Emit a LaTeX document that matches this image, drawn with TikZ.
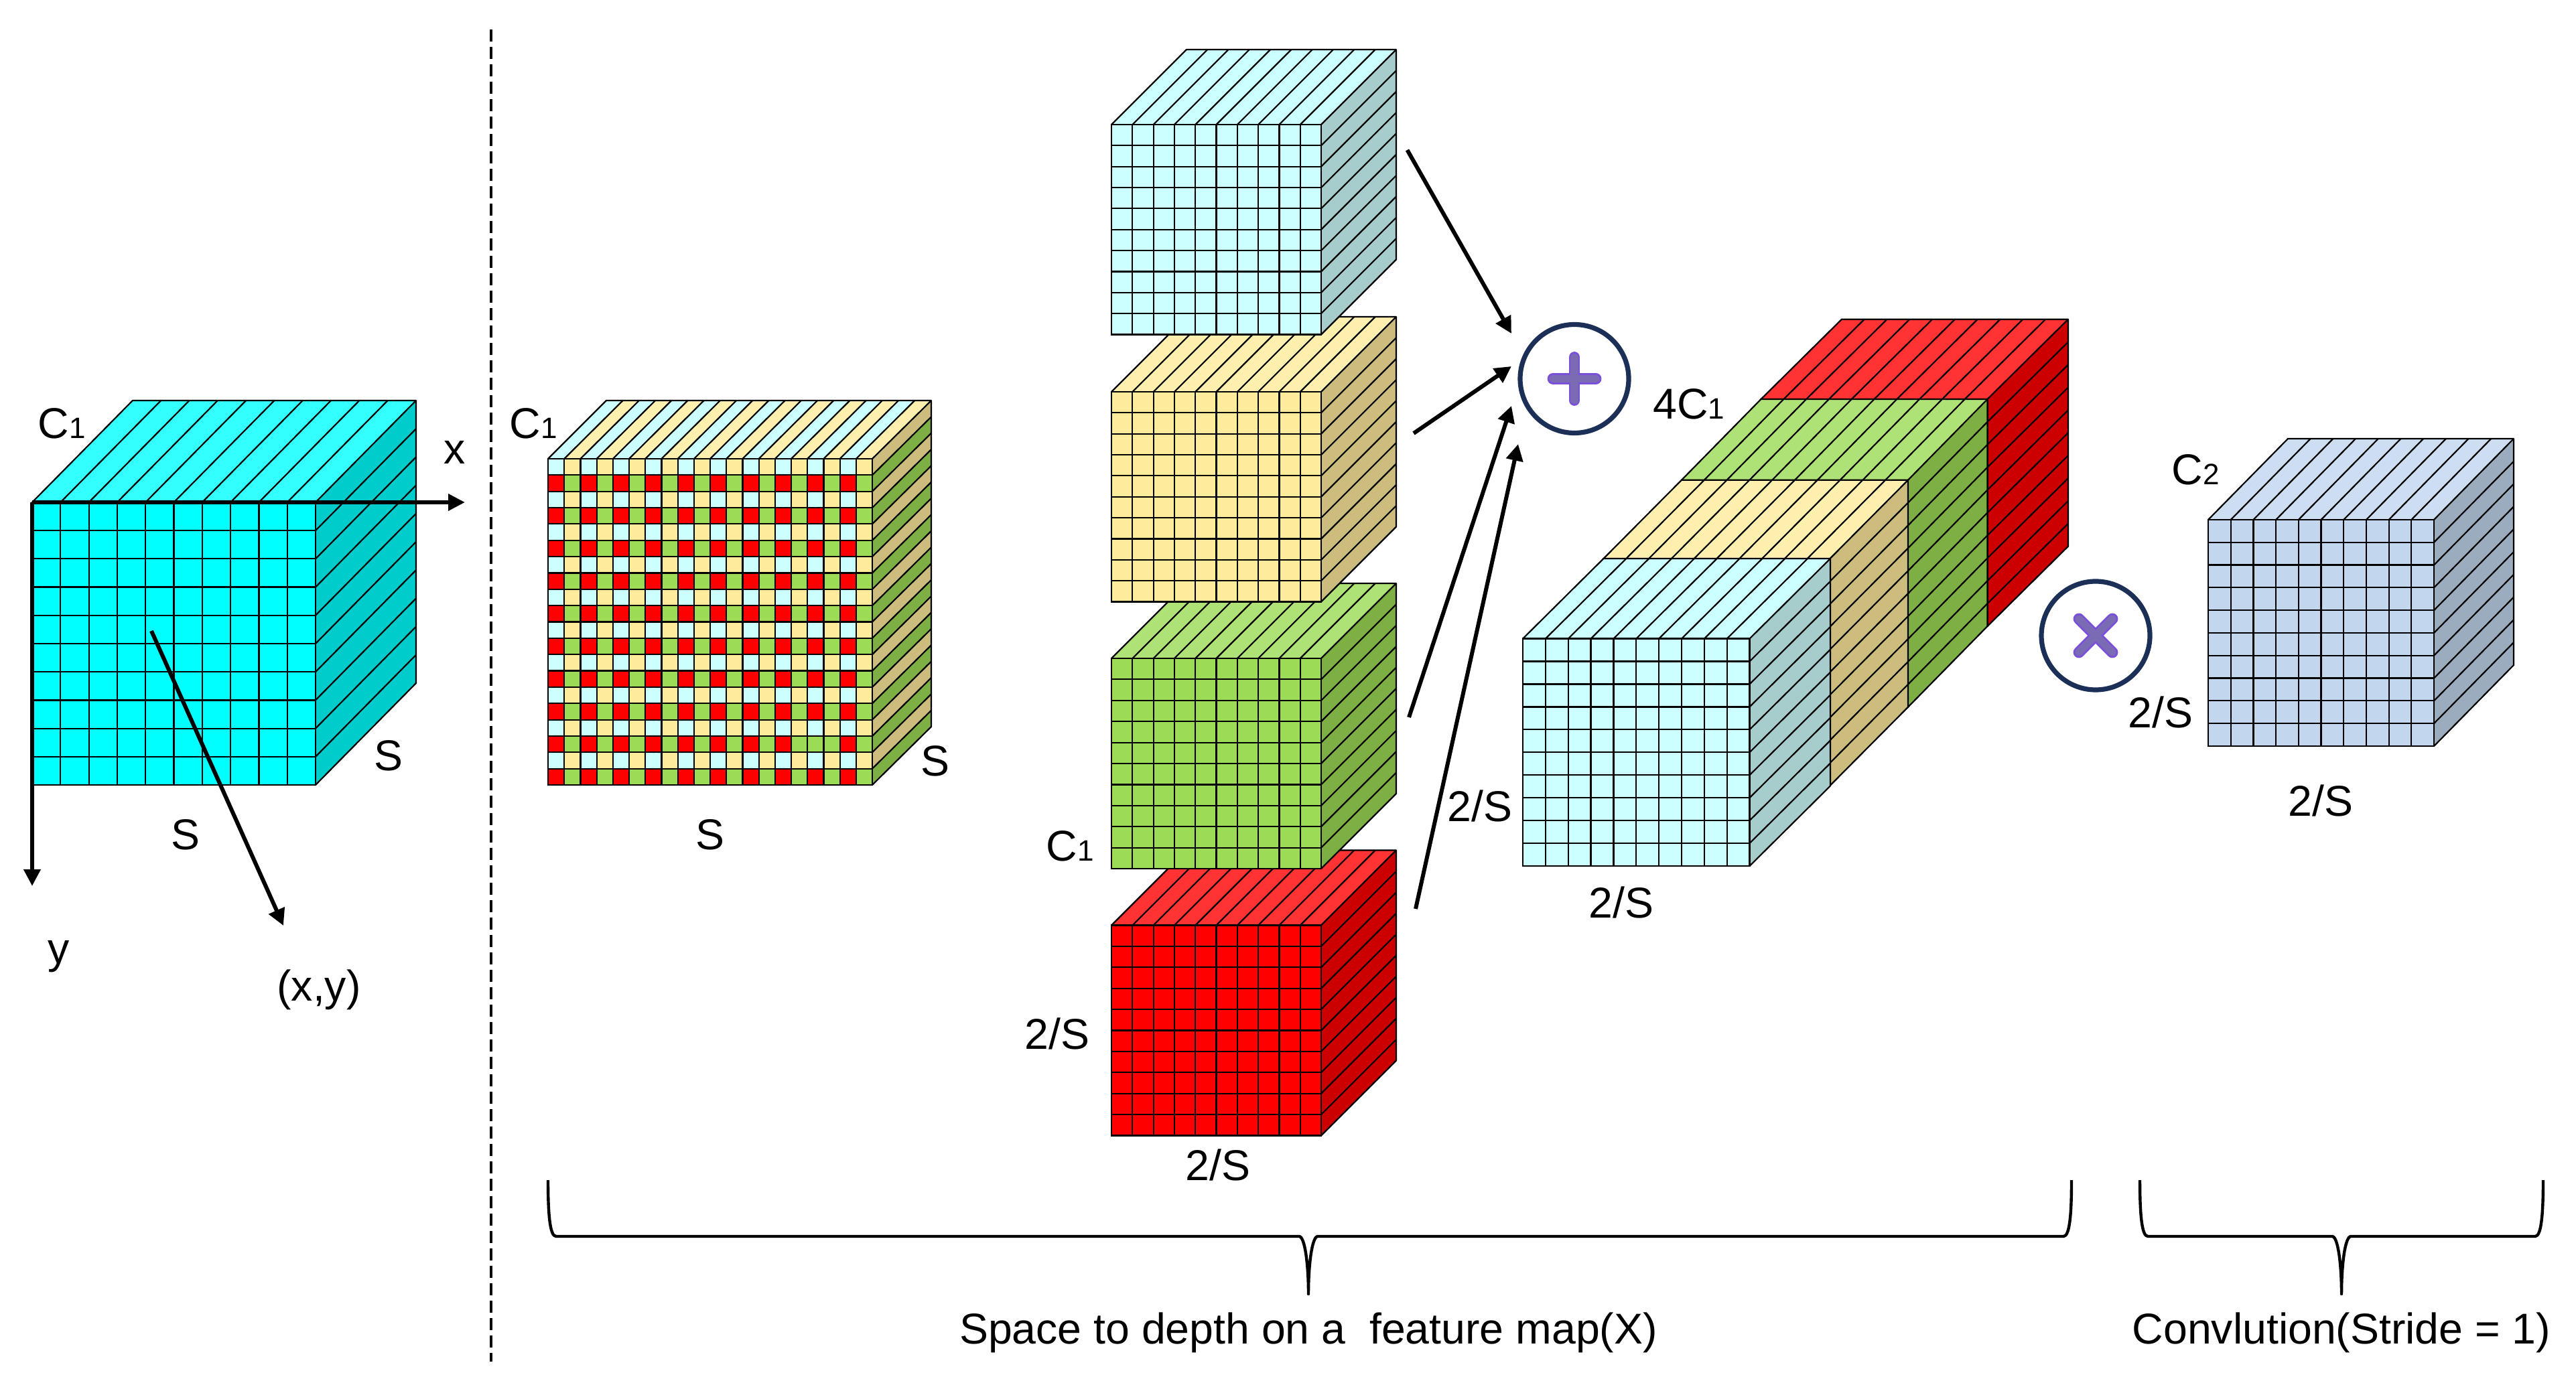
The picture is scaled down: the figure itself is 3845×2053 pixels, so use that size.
\documentclass[tikz,border=0pt]{standalone}
\usepackage{fontspec}
\setmainfont{Liberation Sans}
\usetikzlibrary{arrows.meta}
\definecolor{cyA}{HTML}{00FFFF}\definecolor{cyB}{HTML}{33FFFF}\definecolor{cyC}{HTML}{00CCCC}
\definecolor{lcA}{HTML}{CCFFFF}\definecolor{lcB}{HTML}{CCFFFF}\definecolor{lcC}{HTML}{A6CCCC}
\definecolor{yeA}{HTML}{FFEB9C}\definecolor{yeB}{HTML}{FFF0B0}\definecolor{yeC}{HTML}{CCBC7D}
\definecolor{grA}{HTML}{9BDB55}\definecolor{grB}{HTML}{AFE276}\definecolor{grC}{HTML}{7DAF44}
\definecolor{reA}{HTML}{FF0000}\definecolor{reB}{HTML}{FF3333}\definecolor{reC}{HTML}{CC0000}
\definecolor{blA}{HTML}{C2D6EE}\definecolor{blB}{HTML}{CDDEF2}\definecolor{blC}{HTML}{9BACBF}
\definecolor{ringc}{HTML}{1B2F57}
\definecolor{signA}{HTML}{7A50D8}\definecolor{signB}{HTML}{7B6BB5}
\newcommand{\sbs}[1]{{\fontsize{11}{11}\selectfont #1}}
% fx fy w h dx dy front top side
\newcommand{\boxblock}[9]{%
  \fill[#8] (#1,#2) -- ++(#5,-#6) -- ++(#3,0) -- ++(-#5,#6) -- cycle;
  \fill[#9] ({#1+#3},#2) -- ++(#5,-#6) -- ++(0,#4) -- ++(-#5,#6) -- cycle;
  \fill[#7] (#1,#2) rectangle ++(#3,#4);
  \foreach \k in {1,...,9}{
    \draw[gridline] ({#1+\k*#3/10},#2) -- ++(0,#4);
    \draw[gridline] (#1,{#2+\k*#4/10}) -- ++(#3,0);
    \draw[gridline] ({#1+\k*#3/10},#2) -- ++(#5,-#6);
    \draw[gridline] ({#1+#3},{#2+\k*#4/10}) -- ++(#5,-#6);
  }
  \draw[gridline] (#1,#2) rectangle ++(#3,#4);
  \draw[gridline,line join=round] (#1,#2) -- ++(#5,-#6) -- ++(#3,0) -- ++(0,#4) -- ++(-#5,#6);
  \draw[gridline] ({#1+#3},#2) -- ++(#5,-#6);
}
% left right mid
\newcommand{\bracepath}[3]{%
  \draw[bracel] (#1,1762) .. controls (#1,1815) and ({#1+3},1846) .. ({#1+12},1846)
    -- ({#3-14},1846) .. controls ({#3-5},1846) and (#3,1890) .. (#3,1932)
    .. controls (#3,1890) and ({#3+5},1846) .. ({#3+14},1846)
    -- ({#2-12},1846) .. controls ({#2-3},1846) and (#2,1815) .. (#2,1762);
}
\tikzset{
  gridline/.style={draw=black,line width=0.55pt},
  lab/.style={inner sep=0pt,font=\fontsize{16.1}{18}\selectfont,text=black},
  conn/.style={line width=1.5pt,-{Triangle[length=6.2pt,width=6.2pt]}},
  axisl/.style={line width=1.5pt,-{Triangle[length=6.2pt,width=6pt]}},
  bracel/.style={line width=1.1pt,line join=round,draw=black},
  ring/.style={circle,draw=ringc,line width=1.8pt,fill=white,minimum size=40.5pt,inner sep=0pt},
}
\begin{document}
\begin{tikzpicture}[x=0.25pt,y=-0.25pt]
\useasboundingbox (0,0) rectangle (3845,2053);
% separator
\coordinate (sepA) at (733,44);
\coordinate (sepB) at (733,2033);
\draw[line width=1pt,dash pattern=on 4.5pt off 2pt] (sepA) -- (sepB);

% cyan cube
\boxblock{48}{750}{423}{422}{150}{152}{cyA}{cyB}{cyC}
\coordinate (orig) at (48,750);
\coordinate (xEnd) at (694,750);
\coordinate (yEnd) at (48,1323);
\coordinate (ptA) at (226,942);
\coordinate (ptB) at (423,1382);
\draw[axisl] (orig) -- (xEnd);
\draw[axisl] (orig) -- (yEnd);
\draw[conn] (ptA) -- (ptB);
\node[lab] (lC1a) at (92,632) {C\sbs{1}};
\node[lab] (lx) at (679,675) {x};
\node[lab] (ly) at (88,1428) {y};
\node[lab] (lSa) at (580,1128) {S};
\node[lab] (lSb) at (277,1246) {S};
\node[lab] (lxy) at (476,1478) {(x,y)};

% checker cube
\fill[yeB] (818,685) -- (905,598) -- (1390,598) -- (1302,685) -- cycle;
\foreach \k in {0,2,...,18}
  \fill[lcB] ({818+\k*24.2},685) -- ++(87.5,-87) -- ++(24.2,0) -- ++(-87.5,87) -- cycle;
\fill[grC] (1302,685) -- (1390,598) -- (1390,1085) -- (1302,1172) -- cycle;
\foreach \k in {0,2,...,18}
  \fill[yeC] (1302,{685+\k*24.35}) -- ++(88,-87) -- ++(0,24.35) -- ++(-88,87) -- cycle;
\foreach \r in {0,...,19}{
  \foreach \c in {0,...,19}{
    \pgfmathtruncatemacro{\kind}{mod(\r,2)*2+mod(\c,2)}
    \ifnum\kind=0 \def\cellc{lcA}\fi
    \ifnum\kind=1 \def\cellc{yeA}\fi
    \ifnum\kind=2 \def\cellc{reA}\fi
    \ifnum\kind=3 \def\cellc{grA}\fi
    \ifnum\r=17 \ifnum\c=16 \def\cellc{grA}\fi\fi
    \fill[\cellc] ({818+\c*24.2},{685+\r*24.35}) rectangle ++(24.2,24.35);
  }
}
\foreach \k in {1,...,19}{
  \draw[gridline] ({818+\k*24.2},685) -- ++(0,487);
  \draw[gridline] (818,{685+\k*24.35}) -- ++(484,0);
  \draw[gridline] ({818+\k*24.2},685) -- ++(87.5,-87);
  \draw[gridline] (1302,{685+\k*24.35}) -- ++(88,-87);
}
\draw[gridline] (818,685) rectangle (1302,1172);
\draw[gridline,line join=round] (818,685) -- (905,598) -- (1390,598) -- (1390,1085) -- (1302,1172);
\draw[gridline] (1302,685) -- (1390,598);
\node[lab] (lC1b) at (796,632) {C\sbs{1}};
\node[lab] (lSc) at (1396,1136) {S};
\node[lab] (lSd) at (1060,1246) {S};

% stack of four
\boxblock{1659}{1381.5}{313}{314}{112}{112}{reA}{reB}{reC}
\boxblock{1659}{983}{313}{314}{112}{112}{grA}{grB}{grC}
\boxblock{1659}{585}{313}{313.5}{112}{112}{yeA}{yeB}{yeC}
\boxblock{1659}{186}{313}{313.5}{112}{112}{lcA}{lcB}{lcC}
\node[lab] (lC1c) at (1597,1263) {C\sbs{1}};
\node[lab] (lr1) at (1578,1543) {2/S};
\node[lab] (lr2) at (1818,1739) {2/S};

% plus
\node[ring] (plus) at (2350,565.5) {};
\coordinate (plusA) at (2318,565.5);
\coordinate (plusB) at (2382,565.5);
\coordinate (plusC) at (2350,533.5);
\coordinate (plusD) at (2350,597.5);
\draw[signA,line width=4.2pt,line cap=round] (plusA) -- (plusB) (plusC) -- (plusD);
\draw[signB,line width=2.8pt,line cap=round] (plusA) -- (plusB) (plusC) -- (plusD);
% arrows to plus
\coordinate (a1s) at (2100.5,224); \coordinate (a1e) at (2256,498);
\coordinate (a2s) at (2110,647);   \coordinate (a2e) at (2256,547);
\coordinate (a3s) at (2103,1071);  \coordinate (a3e) at (2256,606);
\coordinate (a4s) at (2113,1357);  \coordinate (a4e) at (2266,663);
\draw[conn] (a1s) -- (a1e);
\draw[conn] (a2s) -- (a2e);
\draw[conn] (a3s) -- (a3e);
\draw[conn] (a4s) -- (a4e);

% long stack
\boxblock{2628.5}{596}{338}{339}{120.5}{119.3}{reA}{reB}{reC}
\boxblock{2510}{716.7}{338}{339}{118.5}{120.7}{grA}{grB}{grC}
\boxblock{2393.5}{834}{338}{339}{116.5}{117.3}{yeA}{yeB}{yeC}
\boxblock{2273}{953.6}{338.5}{339.4}{120.5}{119.6}{lcA}{lcB}{lcC}
\node[lab] (l4c) at (2521,603) {4C\sbs{1}};
\node[lab] (ll1) at (2209,1203) {2/S};
\node[lab] (ll2) at (2420,1347) {2/S};

% times
\node[ring] (times) at (3128,949) {};
\coordinate (tA) at (3103,924);
\coordinate (tB) at (3153,974);
\coordinate (tC) at (3153,924);
\coordinate (tD) at (3103,974);
\draw[signA,line width=4.2pt,line cap=round] (tA) -- (tB) (tC) -- (tD);
\draw[signB,line width=2.8pt,line cap=round] (tA) -- (tB) (tC) -- (tD);

% blue cube
\boxblock{3296}{776}{337}{338}{119}{121}{blA}{blB}{blC}
\node[lab] (lC2) at (3277,701) {C\sbs{2}};
\node[lab] (lb1) at (3225,1063) {2/S};
\node[lab] (lb2) at (3464,1195) {2/S};

% braces
\bracepath{818}{3092}{1953}
\bracepath{3194}{3796}{3495}
\node[lab] (capA) at (1953,1990) {Space to depth on a\ \ feature map(X)};
\node[lab] (capB) at (3495,1990) {Convlution(Stride = 1)};
\end{tikzpicture}
\end{document}
